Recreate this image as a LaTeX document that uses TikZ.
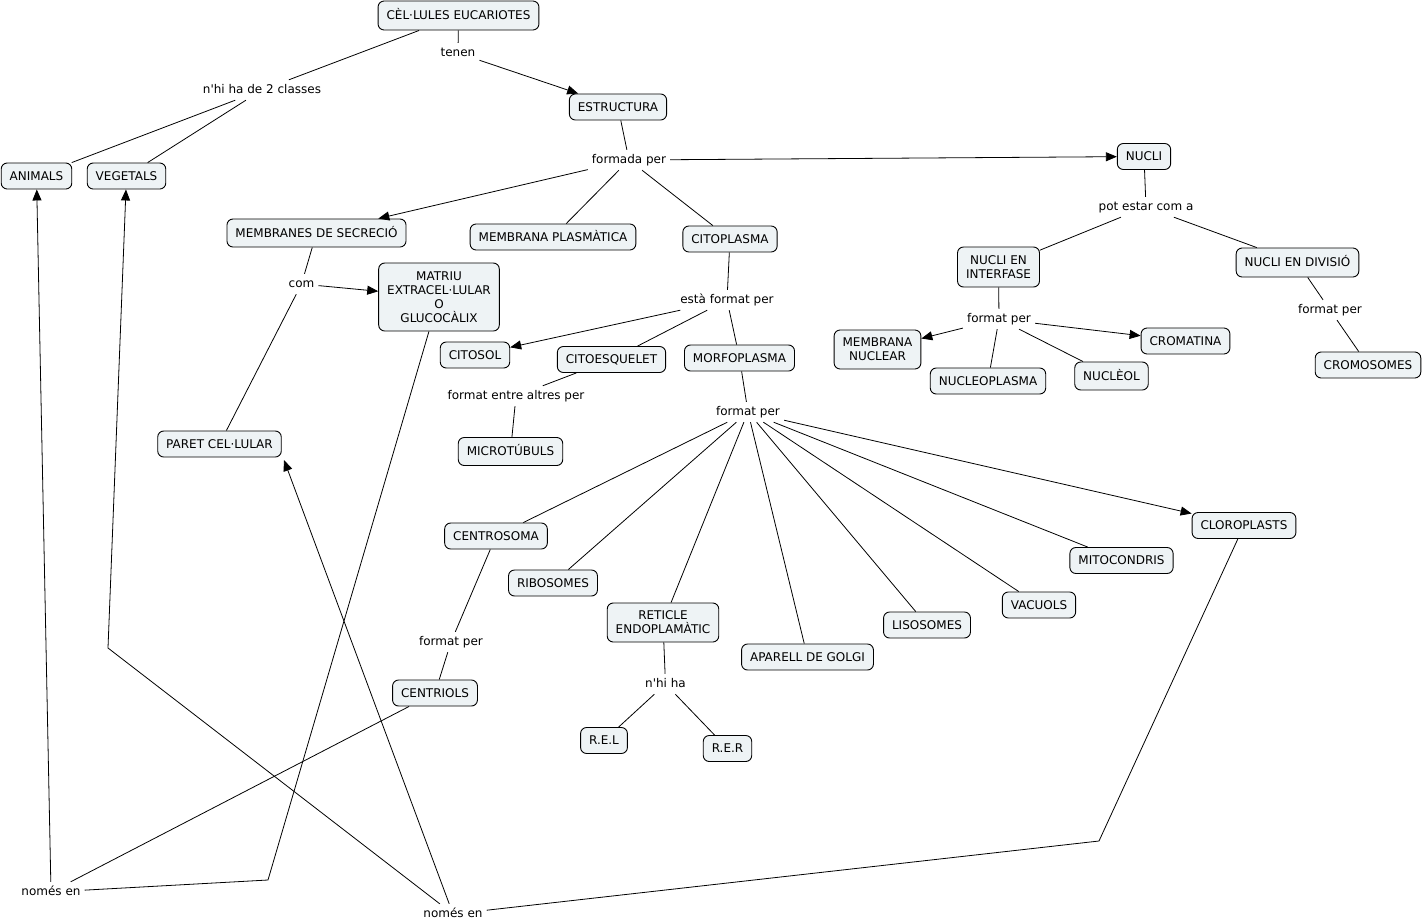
\documentclass[tikz,border=0pt]{standalone}
\usepackage{fontspec}
\setmainfont{DejaVu Sans}
\usetikzlibrary{arrows.meta}
\definecolor{boxfill}{RGB}{238,243,245}
\begin{document}
\begin{tikzpicture}[x=1pt,y=-1pt,
  concept/.style={draw=black, fill=boxfill, rounded corners=6pt, line width=0.9pt,
    font=\fontsize{12}{14}\selectfont, inner xsep=8.5pt, inner ysep=7pt,
    text height=10pt, text depth=2pt},
  concepttwo/.style={draw=black, fill=boxfill, rounded corners=6pt, line width=0.9pt,
    font=\fontsize{12}{14}\selectfont, align=center, inner xsep=8.5pt, inner ysep=4pt},
  lbl/.style={font=\fontsize{12}{14}\selectfont, inner sep=4pt, text height=9pt, text depth=3pt},
  link/.style={line width=0.8pt},
  arr/.style={link, -{Triangle[length=11pt,width=9pt]}}]
\useasboundingbox (0,0) rectangle (1425,924);

% concepts
\node[concept, minimum height=29pt] (cel) at (458.5,15.5) {CÈL·LULES EUCARIOTES};
\node[concept] (estr) at (618,107) {ESTRUCTURA};
\node[concept] (nucli) at (1144,156.5) {NUCLI};
\node[concept] (anim) at (36.5,176) {ANIMALS};
\node[concept] (veg) at (126.5,176) {VEGETALS};
\node[concept, minimum height=28pt] (memsec) at (316.5,233) {MEMBRANES DE SECRECIÓ};
\node[concept] (memplas) at (553,237) {MEMBRANA PLASMÀTICA};
\node[concept] (citop) at (730,239) {CITOPLASMA};
\node[concepttwo, minimum height=40pt] (ninter) at (998.5,267) {NUCLI EN\\INTERFASE};
\node[concept, minimum height=29pt] (ndiv) at (1297.5,262.5) {NUCLI EN DIVISIÓ};
\node[concepttwo, minimum height=68pt] (matriu) at (439,297) {MATRIU\\EXTRACEL·LULAR\\O\\GLUCOCÀLIX};
\node[concept] (citosol) at (475,355) {CITOSOL};
\node[concept] (citoesq) at (611.5,359.5) {CITOESQUELET};
\node[concept] (morfo) at (739.5,358) {MORFOPLASMA};
\node[concepttwo, minimum height=39pt] (memnuc) at (877.5,349.5) {MEMBRANA\\NUCLEAR};
\node[concept] (cromat) at (1185.5,341) {CROMATINA};
\node[concept] (nucleop) at (988,381) {NUCLEOPLASMA};
\node[concept, minimum height=28pt] (nucleol) at (1111.5,376) {NUCLÈOL};
\node[concept] (cromos) at (1368,365) {CROMOSOMES};
\node[concept] (paret) at (219.5,444) {PARET CEL·LULAR};
\node[concept, minimum height=28pt] (micro) at (510.5,451.5) {MICROTÚBULS};
\node[concept] (centros) at (496,536) {CENTROSOMA};
\node[concept] (clor) at (1244,525.5) {CLOROPLASTS};
\node[concept] (mito) at (1121.5,560.5) {MITOCONDRIS};
\node[concept] (ribo) at (553,583) {RIBOSOMES};
\node[concepttwo, minimum height=39pt] (retic) at (663,622.5) {RETICLE\\ENDOPLAMÀTIC};
\node[concept] (liso) at (927,625) {LISOSOMES};
\node[concept] (vac) at (1039,605) {VACUOLS};
\node[concept] (golgi) at (807.5,657) {APARELL DE GOLGI};
\node[concept] (centriols) at (435,693) {CENTRIOLS};
\node[concept] (rel) at (604,740.5) {R.E.L};
\node[concept] (rer) at (727.5,748.5) {R.E.R};

% linking phrases
\node[lbl] (tenen) at (458,53) {tenen};
\node[lbl] (nhi2) at (262,90) {n\textquotesingle hi ha de 2 classes};
\node[lbl] (formada) at (629,160) {formada per};
\node[lbl] (potestar) at (1146,207) {pot estar com a};
\node[lbl] (com) at (301.5,284) {com};
\node[lbl] (esta) at (727,300) {està format per};
\node[lbl] (fpinter) at (999,319) {format per};
\node[lbl] (fpdiv) at (1330,310) {format per};
\node[lbl] (fentre) at (516,396) {format entre altres per};
\node[lbl] (fpmorfo) at (748,412) {format per};
\node[lbl] (fpcentr) at (451,642) {format per};
\node[lbl] (nhiha) at (665.5,684) {n\textquotesingle hi ha};
\node[lbl] (nomesa) at (51,892) {només en};
\node[lbl] (nomesb) at (453,914) {només en};

% bend points and free ends
\coordinate (bA) at (268,880);
\coordinate (bB) at (108,648);
\coordinate (bC) at (1099,841);
\coordinate (paretend) at (284,460);

% connectors
\draw[link] (cel) -- (tenen);
\draw[arr] (tenen) -- (estr);
\draw[link] (cel) -- (nhi2);
\draw[link] (nhi2) -- (anim);
\draw[link] (nhi2) -- (veg);

\draw[link] (estr) -- (formada);
\draw[arr] (formada) -- (nucli);
\draw[arr] (formada) -- (memsec);
\draw[link] (formada) -- (memplas);
\draw[link] (formada) -- (citop);

\draw[link] (nucli) -- (potestar);
\draw[link] (potestar) -- (ninter);
\draw[link] (potestar) -- (ndiv);
\draw[link] (ninter) -- (fpinter);
\draw[arr] (fpinter) -- (memnuc);
\draw[link] (fpinter) -- (nucleop);
\draw[link] (fpinter) -- (nucleol);
\draw[arr] (fpinter) -- (cromat);
\draw[link] (ndiv) -- (fpdiv);
\draw[link] (fpdiv) -- (cromos);

\draw[link] (memsec) -- (com);
\draw[arr] (com) -- (matriu);
\draw[link] (com) -- (paret);

\draw[link] (citop) -- (esta);
\draw[arr] (esta) -- (citosol);
\draw[link] (esta) -- (citoesq);
\draw[link] (esta) -- (morfo);
\draw[link] (citoesq) -- (fentre);
\draw[link] (fentre) -- (micro);

\draw[link] (morfo) -- (fpmorfo);
\draw[link] (fpmorfo) -- (centros);
\draw[link] (fpmorfo) -- (ribo);
\draw[link] (fpmorfo) -- (retic);
\draw[link] (fpmorfo) -- (golgi);
\draw[link] (fpmorfo) -- (liso);
\draw[link] (fpmorfo) -- (vac);
\draw[link] (fpmorfo) -- (mito);
\draw[arr] (fpmorfo) -- (clor);

\draw[link] (centros) -- (fpcentr);
\draw[link] (fpcentr) -- (centriols);
\draw[link] (retic) -- (nhiha);
\draw[link] (nhiha) -- (rel);
\draw[link] (nhiha) -- (rer);

\draw[arr] (nomesa) -- (anim);
\draw[link] (nomesa) -- (centriols);
\draw[link] (nomesa) -- (bA) -- (matriu);
\draw[arr] (nomesb) -- (bB) -- (veg);
\draw[arr] (nomesb) -- (paretend);
\draw[link] (nomesb) -- (bC) -- (clor);
\end{tikzpicture}
\end{document}
